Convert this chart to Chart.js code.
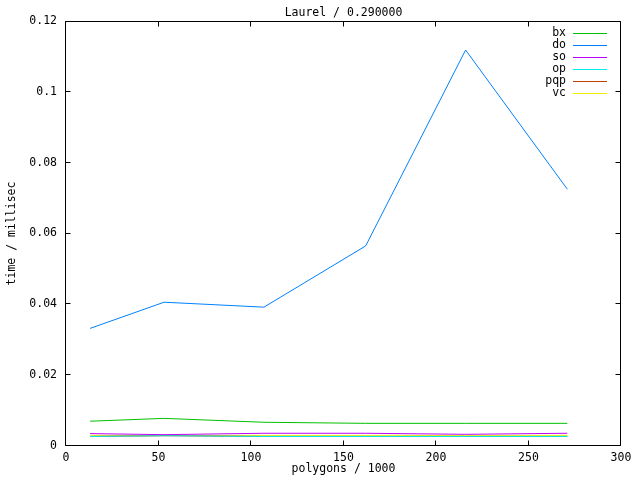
<!DOCTYPE html>
<html>
<head>
<meta charset="utf-8">
<script src="https://cdn.jsdelivr.net/npm/chart.js@4"></script>
<style>
  html, body { margin: 0; padding: 0; background: #fff; }
  #wrap { width: 640px; height: 480px; }
</style>
</head>
<body>
<div id="wrap"><canvas id="chart" width="640" height="480"></canvas></div>
<script>
// polygons / 1000
const polygons = [13, 53, 107, 162, 216, 271];

// time / millisec
const bx = [0.0070, 0.0078, 0.0067, 0.0064, 0.0064, 0.0064];
const doTimes = [0.0332, 0.0406, 0.0392, 0.0565, 0.1118, 0.0725];
const so = [0.0035, 0.0032, 0.0036, 0.0036, 0.0033, 0.0036];
const op = [0.0027, 0.0029, 0.0027, 0.0027, 0.0027, 0.0027];
const pqp = [0.0027, 0.0029, 0.0027, 0.0027, 0.0027, 0.0027];
const vc = [0.0030, 0.0030, 0.0030, 0.0030, 0.0030, 0.0030];

const xTicks = [0, 50, 100, 150, 200, 250, 300];
const yTicks = [0, 0.02, 0.04, 0.06, 0.08, 0.1, 0.12];

const titleText = 'Laurel / 0.290000';
const xTitle = 'polygons / 1000';
const yTitle = 'time / millisec';

const FONT = '"DejaVu Sans Mono", "Liberation Mono", monospace';

function series(label, values, color) {
  return {
    label,
    data: polygons.map((x, i) => ({ x, y: values[i] })),
    borderColor: color,
    backgroundColor: color,
    borderWidth: 1,
    pointRadius: 0,
    tension: 0,
    fill: false,
  };
}

const clamp = (v, lo, hi) => Math.min(Math.max(v, lo), hi);

// frame, inward ticks, titles and legend, gnuplot style
const gnuplotFrame = {
  id: 'gnuplotFrame',
  afterDraw(chart) {
    const { ctx, chartArea: a, scales } = chart;
    const tick = 5;
    const L = Math.round(a.left) - 0.5;
    const R = Math.round(a.right) - 0.5;
    const T = Math.round(a.top) + 0.5;
    const B = Math.round(a.bottom) - 0.5;
    ctx.save();
    ctx.strokeStyle = '#000';
    ctx.lineWidth = 1;
    ctx.beginPath();
    ctx.rect(L, T, R - L, B - T);
    xTicks.forEach(v => {
      const px = clamp(Math.round(scales.x.getPixelForValue(v)) - 0.5, L, R);
      ctx.moveTo(px, B);
      ctx.lineTo(px, B - tick);
      ctx.moveTo(px, T);
      ctx.lineTo(px, T + tick);
    });
    yTicks.forEach(v => {
      const py = clamp(Math.round(scales.y.getPixelForValue(v)) - 0.5, T, B);
      ctx.moveTo(L, py);
      ctx.lineTo(L + tick, py);
      ctx.moveTo(R, py);
      ctx.lineTo(R - tick, py);
    });
    ctx.stroke();

    ctx.fillStyle = '#000';
    ctx.font = '11.5px ' + FONT;
    ctx.textAlign = 'center';
    ctx.textBaseline = 'middle';
    ctx.fillText(titleText, (a.left + a.right) / 2, 13);
    ctx.fillText(xTitle, (a.left + a.right) / 2, 469);
    ctx.save();
    ctx.translate(12, (a.top + a.bottom) / 2);
    ctx.rotate(-Math.PI / 2);
    ctx.fillText(yTitle, 0, 0);
    ctx.restore();

    // legend
    ctx.textAlign = 'right';
    chart.data.datasets.forEach((ds, i) => {
      const y = 33 + i * 12;
      ctx.fillStyle = '#000';
      ctx.fillText(ds.label, 566, y);
      ctx.fillStyle = ds.borderColor;
      ctx.fillRect(573, y, 34, 1);
    });
    ctx.restore();
  },
};

const tickFont = { family: FONT, size: 11.5 };

new Chart(document.getElementById('chart'), {
  type: 'line',
  data: {
    datasets: [
      series('bx', bx, '#00c000'),
      series('do', doTimes, '#0080ff'),
      series('so', so, '#c000ff'),
      series('op', op, '#00eeee'),
      series('pqp', pqp, '#c04000'),
      series('vc', vc, '#eeee00'),
    ],
  },
  options: {
    responsive: false,
    animation: false,
    layout: { padding: { top: 21, right: 19, left: 0, bottom: 0 } },
    plugins: {
      legend: { display: false },
      title: { display: false },
      tooltip: { enabled: false },
    },
    scales: {
      x: {
        type: 'linear',
        min: 0,
        max: 300,
        afterFit: s => { s.height = 34; },
        afterBuildTicks: s => { s.ticks = xTicks.map(value => ({ value })); },
        grid: { display: false, drawTicks: false },
        border: { display: false },
        ticks: { color: '#000', font: tickFont, padding: 5, maxRotation: 0,
          callback: v => String(v) },
      },
      y: {
        type: 'linear',
        min: 0,
        max: 0.12,
        afterFit: s => { s.width = 66; },
        afterBuildTicks: s => { s.ticks = yTicks.map(value => ({ value })); },
        grid: { display: false, drawTicks: false },
        border: { display: false },
        ticks: { color: '#000', font: tickFont, padding: 9,
          callback: v => String(Number(v.toFixed(2))) },
      },
    },
  },
  plugins: [gnuplotFrame],
});
</script>
</body>
</html>
